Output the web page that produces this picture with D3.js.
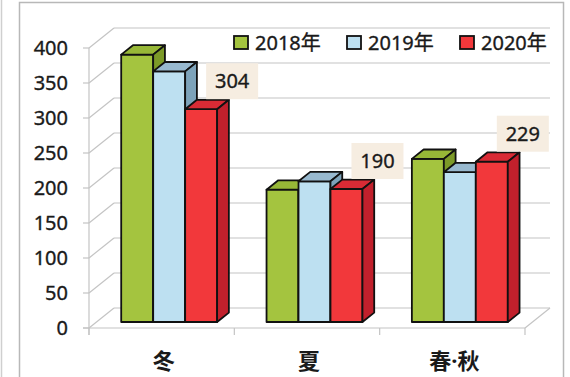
<!DOCTYPE html>
<html>
<head>
<meta charset="utf-8">
<script src="https://cdn.jsdelivr.net/npm/d3@7"></script>
<style>
  html, body { margin: 0; padding: 0; background: #fff; }
  svg { display: block; font-family: "Noto Sans", "Noto Sans CJK JP", sans-serif; }
  .num { stroke: #1a1a1a; stroke-width: 0.35px; }
</style>
</head>
<body>
<script>
// Seasons on the category axis, one column per year
const categories = ["冬", "夏", "春·秋"];
const seriesNames = ["2018年", "2019年", "2020年"];
const values2018 = [382, 189, 233];
const values2019 = [358, 201, 214];
const values2020 = [304, 190, 229];
const yTicks = [0, 50, 100, 150, 200, 250, 300, 350, 400];

const seriesValues = [values2018, values2019, values2020];
// front / top / side face colours per series
const faceColors = [
  { front: "#a4c43f", top: "#97b737", side: "#7c9a28" },
  { front: "#bde0f1", top: "#98b9cf", side: "#7da3ba" },
  { front: "#f2383b", top: "#d92b35", side: "#c1202c" }
];

const W = 570, H = 377;
const svg = d3.select("body").append("svg").attr("width", W).attr("height", H);
svg.append("rect").attr("width", W).attr("height", H).attr("fill", "#fff");

// frame
svg.append("line").attr("x1", 1.5).attr("x2", 1.5).attr("y1", 0).attr("y2", H)
  .attr("stroke", "#cfcfcf").attr("stroke-width", 1.5);
svg.append("rect").attr("x", 19.5).attr("y", 2.5).attr("width", 544).attr("height", 420)
  .attr("fill", "none").attr("stroke", "#b8b8b8").attr("stroke-width", 1.5);

// oblique 3D projection: depth direction of the plot box
const depth = { dx: 25, dy: -20 };
const left = 89, right = 525;
const y = d3.scaleLinear().domain([0, 400]).range([328, 48]);
const xBand = d3.scaleBand().domain(categories).range([left, right])
  .paddingInner(0.34).paddingOuter(0.17);
const xSub = d3.scaleBand().domain(seriesNames).range([0, xBand.bandwidth()]);

const gridColor = "#c4c4c4";
const grid = svg.append("g").attr("stroke", gridColor).attr("stroke-width", 1.2).attr("fill", "none");

// back wall gridlines and side wall diagonals
yTicks.forEach(t => {
  grid.append("line")
    .attr("x1", left + depth.dx).attr("x2", right + depth.dx)
    .attr("y1", y(t) + depth.dy).attr("y2", y(t) + depth.dy);
  grid.append("line")
    .attr("x1", left).attr("x2", left + depth.dx)
    .attr("y1", y(t)).attr("y2", y(t) + depth.dy);
});
// floor front and right edges
grid.append("line").attr("x1", left - 6).attr("x2", right).attr("y1", y(0)).attr("y2", y(0));
grid.append("line").attr("x1", right).attr("x2", right + depth.dx)
  .attr("y1", y(0)).attr("y2", y(0) + depth.dy);
// value axis line and ticks
grid.append("line").attr("x1", left).attr("x2", left).attr("y1", y(400)).attr("y2", y(0) + 7);
yTicks.forEach(t => {
  grid.append("line").attr("x1", left - 6).attr("x2", left).attr("y1", y(t)).attr("y2", y(t));
});
// category ticks
const catEdges = [left].concat(categories.map(c => xBand(c) + xBand.bandwidth() + xBand.step() * 0.17));
catEdges[catEdges.length - 1] = right;
catEdges.forEach(xx => {
  grid.append("line").attr("x1", xx).attr("x2", xx).attr("y1", y(0)).attr("y2", y(0) + 7);
});

// value axis labels
svg.append("g").selectAll("text").data(yTicks).join("text")
  .attr("class", "num")
  .attr("x", 68).attr("y", d => y(d) + 7)
  .attr("text-anchor", "end").attr("font-size", 20).attr("fill", "#1a1a1a")
  .text(d => d);

// category labels
svg.append("g").selectAll("text").data(categories).join("text")
  .attr("x", d => xBand(d) + xBand.bandwidth() / 2 + 2)
  .attr("y", 360).attr("dominant-baseline", "central")
  .attr("text-anchor", "middle").attr("font-size", 22).attr("font-weight", "bold")
  .attr("fill", "#1a1a1a")
  .text(d => d);

// columns
const f0 = 0.3, f1 = 0.47;
const off = { dx: depth.dx * f0, dy: depth.dy * f0 };
const bd = { dx: depth.dx * f1, dy: depth.dy * f1 };
const bars = svg.append("g").attr("stroke", "#111").attr("stroke-width", 1.8)
  .attr("stroke-linejoin", "round");

function barGeom(ci, si) {
  const v = seriesValues[si][ci];
  const xl = xBand(categories[ci]) + xSub(seriesNames[si]) + off.dx;
  const xr = xl + xSub.bandwidth();
  const yt = y(v) + off.dy;
  const yb = y(0) + off.dy;
  return { xl, xr, yt, yb };
}

categories.forEach((c, ci) => {
  seriesNames.forEach((s, si) => {
    const g = barGeom(ci, si);
    const col = faceColors[si];
    bars.append("rect").attr("x", g.xl).attr("y", g.yt)
      .attr("width", g.xr - g.xl).attr("height", g.yb - g.yt).attr("fill", col.front);
    bars.append("polygon").attr("fill", col.top).attr("points", [
      [g.xl, g.yt], [g.xl + bd.dx, g.yt + bd.dy], [g.xr + bd.dx, g.yt + bd.dy], [g.xr, g.yt]
    ].map(p => p.join(",")).join(" "));
    bars.append("polygon").attr("fill", col.side).attr("points", [
      [g.xr, g.yt], [g.xr + bd.dx, g.yt + bd.dy], [g.xr + bd.dx, g.yb + bd.dy], [g.xr, g.yb]
    ].map(p => p.join(",")).join(" "));
  });
});

// data labels for 2020
const labels = svg.append("g");
categories.forEach((c, ci) => {
  const g = barGeom(ci, 2);
  const cx = (g.xl + g.xr) / 2 + 31;
  const cy = g.yt - 28;
  labels.append("rect").attr("x", cx - 26).attr("y", cy - 18).attr("width", 52).attr("height", 36)
    .attr("fill", "#f6ede1");
  labels.append("text").attr("class", "num").attr("x", cx).attr("y", cy + 7)
    .attr("text-anchor", "middle").attr("font-size", 20).attr("fill", "#1a1a1a")
    .text(values2020[ci]);
});

// legend
const legend = svg.append("g");
legend.append("rect").attr("x", 212).attr("y", 29).attr("width", 344).attr("height", 27).attr("fill", "#fff");
seriesNames.forEach((s, si) => {
  const lx = 234 + si * 113;
  legend.append("rect").attr("x", lx).attr("y", 36).attr("width", 14).attr("height", 13)
    .attr("fill", faceColors[si].front).attr("stroke", "#111").attr("stroke-width", 1.8);
  legend.append("text").attr("class", "num").attr("x", lx + 21).attr("y", 49.5)
    .attr("font-size", 20).attr("fill", "#1a1a1a").text(s);
});
</script>
</body>
</html>
